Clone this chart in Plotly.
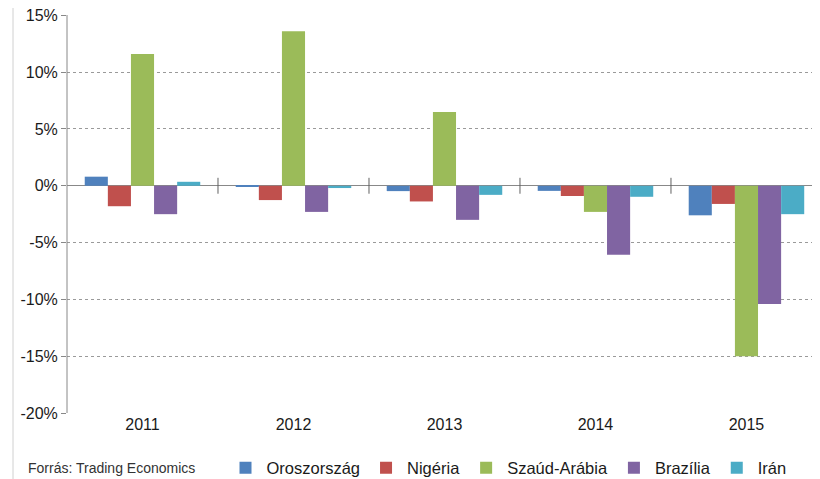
import plotly.graph_objects as go

years = ["2011", "2012", "2013", "2014", "2015"]
series_names = ["Oroszország", "Nigéria", "Szaúd-Arábia", "Brazília", "Irán"]
oroszorszag = [0.8, -0.1, -0.47, -0.45, -2.6]
nigeria = [-1.8, -1.26, -1.38, -0.9, -1.6]
szaud_arabia = [11.6, 13.6, 6.5, -2.3, -15.0]
brazilia = [-2.5, -2.3, -3.0, -6.07, -10.4]
iran = [0.35, -0.2, -0.8, -0.97, -2.5]
y_ticks = [15, 10, 5, 0, -5, -10, -15, -20]
y_tick_labels = ["15%", "10%", "5%", "0%", "-5%", "-10%", "-15%", "-20%"]
source_text = "Forrás: Trading Economics"

colors = ["#4F81BD", "#C0504D", "#9BBB59", "#8064A2", "#4BACC6"]
values = [oroszorszag, nigeria, szaud_arabia, brazilia, iran]

fig = go.Figure()
for name, vals, col in zip(series_names, values, colors):
    fig.add_trace(go.Bar(x=list(range(len(years))), y=vals, name=name,
                         marker=dict(color=col, line=dict(width=0))))

# page has an 8px body margin; figure sized to fit the 820x479 window
W, H = 812, 471
ML, MR, MT, MB = 59, 0, 7, 66
PW, PH = W - ML - MR, H - MT - MB

shapes = []
for i in range(len(years) - 1):
    shapes.append(dict(type="line", xref="x", yref="y", x0=i + 0.5, x1=i + 0.5,
                       y0=-0.7, y1=0.7, line=dict(color="#606060", width=1)))
shapes.append(dict(type="line", xref="paper", yref="paper", x0=0, x1=0,
                   y0=0, y1=1, line=dict(color="#888888", width=1)))
# slide border at left
shapes.append(dict(type="line", xref="paper", yref="paper",
                   x0=(5 - ML) / PW, x1=(5 - ML) / PW,
                   y0=-MB / PH, y1=1 + MT / PH,
                   line=dict(color="#d0d0d0", width=1)))

fig.update_layout(
    width=W, height=H,
    margin=dict(l=ML, r=MR, t=MT, b=MB, autoexpand=False),
    paper_bgcolor="white", plot_bgcolor="white",
    barmode="group", bargap=0.235, bargroupgap=0,
    font=dict(family="Liberation Sans, Arial, sans-serif", size=15, color="#1a1a1a"),
    showlegend=True,
    legend=dict(orientation="h", x=(217 - ML - 0.5) / PW, y=-55 / PH, xanchor="left", yanchor="middle",
                font=dict(size=16.5), itemwidth=32, traceorder="normal"),
    shapes=shapes,
    annotations=[dict(text=source_text, xref="paper", yref="paper",
                      x=(18 - ML) / PW, y=-55 / PH,
                      xanchor="left", yanchor="middle", showarrow=False,
                      font=dict(size=14, color="#333333"))],
    xaxis=dict(tickvals=list(range(len(years))), ticktext=years, range=[-0.5, 4.487],
               showgrid=False, zeroline=False, showline=False, ticks="", automargin=False,
               tickfont=dict(size=16, color="#1a1a1a")),
    yaxis=dict(range=[-20, 15.03], tickvals=y_ticks, ticktext=y_tick_labels, automargin=False,
               ticklabeloverflow="allow",
               showgrid=True, gridcolor="#9a9a9a", griddash="dot", gridwidth=1,
               zeroline=True, zerolinecolor="#888888", zerolinewidth=1,
               showline=False, ticks="outside", ticklen=5, tickcolor="#888888",
               tickfont=dict(size=16, color="#1a1a1a")),
)

fig.write_html("out.html")
